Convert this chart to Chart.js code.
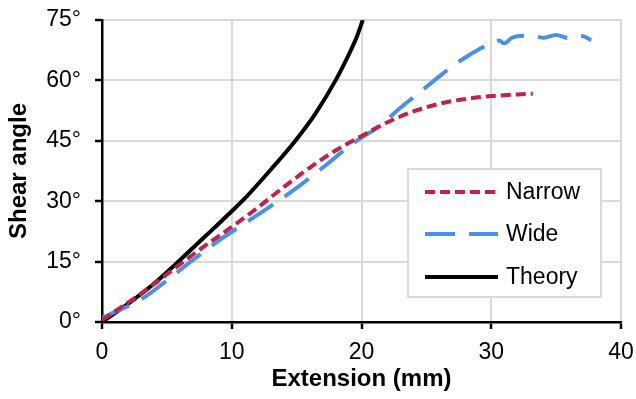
<!DOCTYPE html>
<html>
<head>
<meta charset="utf-8">
<script src="https://cdn.jsdelivr.net/npm/chart.js@4.4.1/dist/chart.umd.min.js"></script>
<style>
  html, body { margin: 0; padding: 0; background: #fff; }
  #wrap { position: relative; width: 636px; height: 399px; }
</style>
</head>
<body>
<div id="wrap"><canvas id="chart"></canvas></div>
<script>
// Values
const seriesNames = ['Narrow', 'Wide', 'Theory'];

const narrowX = [0, 2, 4, 6, 8, 10, 12, 14, 16, 18, 20, 22, 24, 26, 28, 30, 32, 33.2];
const narrowY = [0.5, 4.8, 9.4, 14.3, 19.1, 23.6, 28.4, 33.5, 38.3, 42.6, 46.2, 49.6, 52.3, 54.2, 55.4, 56.1, 56.5, 56.7];

const wideX = [0, 1, 3, 5, 7, 9, 11, 13, 15, 17, 19, 20, 21, 22, 23, 24, 25, 26, 27, 28, 29, 30, 30.6, 31, 31.6, 32.5, 33.5, 34, 35, 36, 37, 37.7];
const wideY = [1, 2.5, 5.6, 10.3, 15.4, 20.2, 24.5, 28.8, 33.3, 38.3, 43.5, 45.8, 47.8, 50.4, 53.2, 55.8, 58.4, 61, 63.5, 65.7, 67.6, 69.3, 69.9, 69.2, 70.6, 71.1, 70.9, 70.6, 71.3, 70.5, 71, 70];

const theoryX = [0, 2, 4, 5.75, 8, 10, 11.1, 13, 14.95, 16.5, 18, 19, 19.6, 20.1];
const theoryY = [0, 4.5, 9.5, 14.6, 21.4, 27.5, 31, 37.8, 45.2, 52, 60, 66.3, 70.5, 75];

const xTicks = [0, 10, 20, 30, 40];
const yTicks = [0, 15, 30, 45, 60, 75];

const FONT = '"Liberation Sans", Arial, Helvetica, sans-serif';

function toPoints(xs, ys) {
    return xs.map((x, i) => ({ x: x, y: ys[i] }));
}

// Legend box drawn inside the plot, like the Excel original
const insideLegend = {
    id: 'insideLegend',
    afterDatasetsDraw(chart) {
        const ctx = chart.ctx;
        const box = { left: 408, top: 169, right: 601, bottom: 297 };
        ctx.save();
        ctx.fillStyle = '#fff';
        ctx.fillRect(box.left, box.top, box.right - box.left, box.bottom - box.top);
        ctx.strokeStyle = '#d9d9d9';
        ctx.lineWidth = 2;
        ctx.strokeRect(box.left, box.top, box.right - box.left, box.bottom - box.top);

        const rows = [192, 234, 277];
        chart.data.datasets.forEach((ds, i) => {
            const y = rows[i];
            ctx.beginPath();
            ctx.strokeStyle = ds.borderColor;
            ctx.lineWidth = ds.borderWidth;
            ctx.setLineDash(ds.borderDash || []);
            ctx.moveTo(425, y);
            ctx.lineTo(498, y);
            ctx.stroke();
            ctx.setLineDash([]);
            ctx.fillStyle = '#000';
            ctx.font = '23px ' + FONT;
            ctx.textAlign = 'left';
            ctx.textBaseline = 'middle';
            ctx.fillText(ds.label, 506, y + 1);
        });
        ctx.restore();
    }
};

new Chart(document.getElementById('chart'), {
    type: 'line',
    data: {
        datasets: [
            {
                label: seriesNames[0],
                data: toPoints(narrowX, narrowY),
                borderColor: '#c2224a',
                borderWidth: 4,
                borderDash: [10, 5],
                pointRadius: 0,
                cubicInterpolationMode: 'monotone',
                fill: false
            },
            {
                label: seriesNames[1],
                data: toPoints(wideX, wideY),
                borderColor: '#4a90e6',
                borderWidth: 4,
                borderDash: [30, 14],
                pointRadius: 0,
                cubicInterpolationMode: 'monotone',
                fill: false
            },
            {
                label: seriesNames[2],
                data: toPoints(theoryX, theoryY),
                borderColor: '#000000',
                borderWidth: 4,
                pointRadius: 0,
                cubicInterpolationMode: 'monotone',
                fill: false
            }
        ]
    },
    options: {
        responsive: true,
        maintainAspectRatio: false,
        animation: false,
        layout: { padding: { top: 20, right: 15, left: 0, bottom: 0 } },
        scales: {
            x: {
                type: 'linear',
                min: 0,
                max: 40,
                // fixed axis size, and no extra room for the end labels
                afterFit: s => { s.height = 77; s.paddingLeft = 0; s.paddingRight = 0; },
                afterBuildTicks: s => { s.ticks = xTicks.map(v => ({ value: v })); },
                ticks: {
                    color: '#000',
                    padding: 10,
                    font: { family: FONT, size: 23 },
                    maxRotation: 0
                },
                grid: {
                    color: '#d9d9d9',
                    lineWidth: 2,
                    tickLength: 7,
                    tickColor: '#000',
                    tickWidth: 2.5
                },
                border: { color: '#000', width: 2.5 },
                title: {
                    display: true,
                    text: 'Extension (mm)',
                    color: '#000',
                    font: { family: FONT, size: 24, weight: 'bold' },
                    padding: { top: 0, bottom: 5 }
                }
            },
            y: {
                type: 'linear',
                min: 0,
                max: 75,
                afterFit: s => { s.width = 102; s.paddingTop = 0; s.paddingBottom = 0; },
                afterBuildTicks: s => { s.ticks = yTicks.map(v => ({ value: v })); },
                ticks: {
                    color: '#000',
                    padding: 14,
                    font: { family: FONT, size: 23 },
                    callback: v => v + '°'
                },
                grid: {
                    color: '#d9d9d9',
                    lineWidth: 2,
                    tickLength: 7,
                    tickColor: '#000',
                    tickWidth: 2.5
                },
                border: { color: '#000', width: 2.5 },
                title: {
                    display: true,
                    text: 'Shear angle',
                    color: '#000',
                    font: { family: FONT, size: 24, weight: 'bold' },
                    padding: { top: 5, bottom: 0 }
                }
            }
        },
        plugins: {
            legend: { display: false },
            tooltip: { enabled: false }
        }
    },
    plugins: [insideLegend]
});
</script>
</body>
</html>
